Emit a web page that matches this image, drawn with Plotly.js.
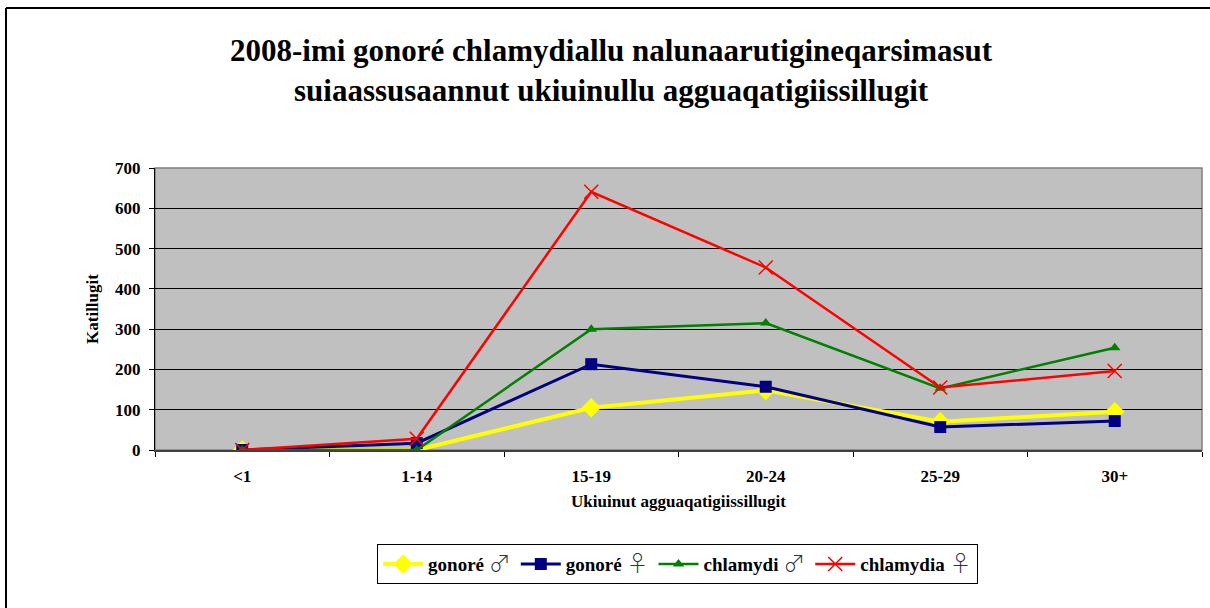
<!DOCTYPE html>
<html>
<head>
<meta charset="utf-8">
<script src="https://cdn.plot.ly/plotly-3.0.1.min.js"></script>
<style>html,body{margin:0;padding:0;background:#fff;}#chart{width:1210px;height:608px;}</style>
</head>
<body>
<div id="chart"></div>
<script>
const categories = ["<1", "1-14", "15-19", "20-24", "25-29", "30+"];
const gonoreMale = [0, 0, 105, 148, 70, 95];
const gonoreFemale = [0, 17, 213, 157, 57, 72];
const chlamydiMale = [0, 0, 300, 315, 153, 254];
const chlamydiaFemale = [0, 28, 641, 453, 155, 196];
const male = "<span style='font-size:22px;font-weight:300;font-family:Noto Sans CJK JP;fill:#333'>\u2642</span>";
const female = "<span style='font-size:22px;font-weight:300;font-family:Noto Sans CJK JP;fill:#333'>\u2640</span>";
const seriesNames = ["gonoré " + male, "gonoré " + female, "chlamydi " + male, "chlamydia " + female];
const yTicks = [0, 100, 200, 300, 400, 500, 600, 700];

const font = "Liberation Serif";

const traces = [
  {x: categories, y: gonoreMale, name: seriesNames[0], mode: "lines+markers",
   line: {color: "#FFFF00", width: 4}, marker: {symbol: "diamond", size: 15, color: "#FFFF00"}},
  {x: categories, y: gonoreFemale, name: seriesNames[1], mode: "lines+markers",
   line: {color: "#000080", width: 3}, marker: {symbol: "square", size: 12, color: "#000080"}},
  {x: categories, y: chlamydiMale, name: seriesNames[2], mode: "lines+markers",
   line: {color: "#008000", width: 2.5}, marker: {symbol: "triangle-up", size: 10, color: "#008000"}},
  {x: categories, y: chlamydiaFemale, name: seriesNames[3], mode: "lines+markers",
   line: {color: "#FF0000", width: 2.5}, marker: {symbol: "x-thin-open", size: 14, color: "#FF0000", line: {color: "#FF0000", width: 1.5}}}
];

const layout = {
  width: 1210, height: 608,
  margin: {l: 155, r: 8, t: 168, b: 158},
  paper_bgcolor: "#FFFFFF",
  plot_bgcolor: "#C0C0C0",
  font: {family: font, color: "#000", size: 16},
  title: {
    text: "<b>2008-imi gonoré chlamydiallu nalunaarutigineqarsimasut<br>suiaassusaannut ukiuinullu agguaqatigiissillugit</b>",
    font: {family: font, size: 31, color: "#000"},
    xref: "container", x: 0.505, xanchor: "center",
    yref: "container", y: 0.9, yanchor: "top"
  },
  xaxis: {
    type: "category",
    range: [-0.5, 5.5],
    tickson: "boundaries",
    ticks: "outside", ticklen: 5, tickcolor: "#000",
    ticklabelstandoff: 10,
    showline: true, linecolor: "#404040", linewidth: 2,
    showgrid: false,
    tickfont: {family: font, size: 17, color: "#000", weight: "bold"},
    title: {text: "<b>Ukiuinut agguaqatigiissillugit</b>", font: {family: font, size: 17}, standoff: 10},
    fixedrange: true
  },
  yaxis: {
    range: [0, 700],
    tickvals: yTicks,
    ticks: "outside", ticklen: 5, tickcolor: "#000",
    ticklabelstandoff: 5,
    showline: true, linecolor: "#000", linewidth: 1,
    showgrid: true, gridcolor: "#000", gridwidth: 1,
    zeroline: false,
    tickfont: {family: font, size: 17, color: "#000", weight: "bold"},
    title: {text: "<b>Katillugit</b>", font: {family: font, size: 17}, standoff: 12},
    fixedrange: true
  },
  showlegend: true,
  legend: {
    orientation: "h",
    xref: "container", yref: "container",
    x: 0.56, xanchor: "center",
    y: 0.072, yanchor: "middle",
    bgcolor: "#FFFFFF", bordercolor: "#000", borderwidth: 1,
    font: {family: font, size: 19, color: "#000", weight: "bold"},
    itemwidth: 40,
    tracegroupgap: 0
  },
  shapes: [
    {type: "rect", xref: "paper", yref: "paper",
     x0: 0, x1: 1, y0: 0, y1: 1,
     line: {color: "#808080", width: 1.5}, fillcolor: "rgba(0,0,0,0)", layer: "below"},
    {type: "line", xref: "paper", yref: "paper",
     x0: -149/1047, x1: 1.02, y0: 442/282, y1: 442/282,
     line: {color: "#000", width: 2}},
    {type: "line", xref: "paper", yref: "paper",
     x0: -149/1047, x1: -149/1047, y0: 442/282, y1: -0.6,
     line: {color: "#000", width: 2}}
  ]
};

Plotly.newPlot("chart", traces, layout, {staticPlot: true, displayModeBar: false});
</script>
</body>
</html>
